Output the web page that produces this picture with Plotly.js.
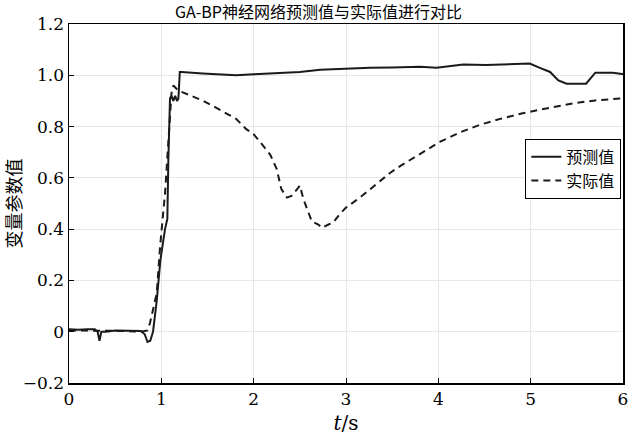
<!DOCTYPE html>
<html>
<head>
<meta charset="utf-8">
<script src="https://cdn.plot.ly/plotly-3.0.1.min.js"></script>
<style>html,body{margin:0;padding:0;background:#fff;}#chart{width:637px;height:436px;}</style>
</head>
<body>
<div id="chart"></div>
<script>
// Predicted (预测值)
var tPred = [0, 0.1, 0.2, 0.28, 0.31, 0.33, 0.35, 0.4, 0.5, 0.6, 0.7, 0.78, 0.82, 0.85, 0.88, 0.91, 0.95, 0.99, 1.04, 1.065, 1.076, 1.094, 1.11, 1.13, 1.15, 1.17, 1.185, 1.2, 1.22, 1.3, 1.45, 1.6, 1.81, 2.0, 2.2, 2.36, 2.5, 2.72, 3.0, 3.26, 3.5, 3.8, 3.98, 4.1, 4.27, 4.52, 4.7, 4.9, 4.99, 5.1, 5.21, 5.3, 5.39, 5.5, 5.6, 5.7, 5.8, 5.89, 5.99, 6.0];
var yPred = [0.01, 0.008, 0.01, 0.01, 0.0, -0.035, 0.0, 0.0, 0.005, 0.005, 0.005, 0.003, -0.01, -0.04, -0.035, 0.0, 0.12, 0.28, 0.40, 0.44, 0.67, 0.91, 0.92, 0.90, 0.92, 0.90, 0.91, 1.013, 1.013, 1.01, 1.007, 1.004, 1.0, 1.004, 1.007, 1.01, 1.013, 1.022, 1.026, 1.029, 1.03, 1.033, 1.029, 1.035, 1.042, 1.04, 1.043, 1.044, 1.046, 1.029, 1.013, 0.98, 0.967, 0.967, 0.967, 1.01, 1.01, 1.01, 1.005, 1.005];

// Actual (实际值)
var tAct = [0, 0.2, 0.4, 0.6, 0.78, 0.85, 0.877, 0.95, 0.986, 1.04, 1.076, 1.11, 1.13, 1.185, 1.35, 1.455, 1.56, 1.71, 1.81, 1.92, 2.0, 2.07, 2.18, 2.25, 2.30, 2.36, 2.41, 2.48, 2.50, 2.54, 2.59, 2.63, 2.70, 2.74, 2.81, 2.86, 2.93, 3.0, 3.15, 3.33, 3.48, 3.59, 3.80, 4.02, 4.24, 4.45, 4.67, 4.89, 5.1, 5.3, 5.5, 5.7, 5.9, 6.0];
var yAct = [0.005, 0.005, 0.003, 0.003, 0.0, 0.005, 0.034, 0.15, 0.33, 0.54, 0.74, 0.93, 0.96, 0.94, 0.916, 0.90, 0.88, 0.85, 0.83, 0.79, 0.77, 0.74, 0.69, 0.634, 0.556, 0.523, 0.53, 0.56, 0.57, 0.516, 0.47, 0.43, 0.418, 0.405, 0.418, 0.425, 0.458, 0.484, 0.523, 0.575, 0.62, 0.647, 0.693, 0.741, 0.778, 0.807, 0.83, 0.85, 0.866, 0.88, 0.893, 0.902, 0.908, 0.91];

var xTicks = [0, 1, 2, 3, 4, 5, 6];
var yTicks = [-0.2, 0, 0.2, 0.4, 0.6, 0.8, 1.0, 1.2];
var yTickText = ['−0.2', '0', '0.2', '0.4', '0.6', '0.8', '1.0', '1.2'];

var CJK = 'Noto Sans CJK SC';
var NUM = 'DejaVu Serif, Noto Sans CJK SC';

var traces = [
  {x: tPred, y: yPred, mode: 'lines', name: '预测值', line: {color: '#1a1a1a', width: 2}},
  {x: tAct, y: yAct, mode: 'lines', name: '实际值', line: {color: '#1a1a1a', width: 2, dash: '7px,5px'}}
];

var layout = {
  width: 637, height: 436,
  margin: {l: 69, r: 14, t: 24, b: 53},
  paper_bgcolor: '#fff', plot_bgcolor: '#fff',
  font: {family: NUM, size: 17, color: '#000'},
  title: {text: 'GA-BP神经网络预测值与实际值进行对比', font: {family: CJK, size: 16, color: '#000'}, x: 0.5, xanchor: 'center', y: 0.972, yanchor: 'middle'},
  xaxis: {range: [0, 6], tickvals: xTicks, ticktext: xTicks.map(String),
    showline: true, linecolor: '#000', linewidth: 1.5, mirror: true,
    showgrid: true, gridcolor: '#e6e6e6', gridwidth: 1,
    ticks: 'inside', ticklen: 5, tickcolor: '#000', tickwidth: 1, zeroline: false,
    tickfont: {family: NUM, size: 17, color: '#000'},
    title: {text: '<i>t</i>/s', font: {family: NUM, size: 20, color: '#000'}, standoff: 8}},
  yaxis: {range: [-0.2, 1.2], tickvals: yTicks, ticktext: yTickText,
    showline: true, linecolor: '#000', linewidth: 1.5, mirror: true,
    showgrid: true, gridcolor: '#e6e6e6', gridwidth: 1,
    ticks: 'inside', ticklen: 5, tickcolor: '#000', tickwidth: 1, zeroline: false,
    tickfont: {family: NUM, size: 17, color: '#000'},
    title: {text: '变量参数值', font: {family: CJK, size: 18, color: '#000'}, standoff: 0}},
  showlegend: true,
  legend: {x: 0.997, xanchor: 'right', y: 0.68, yanchor: 'top', bgcolor: '#fff', bordercolor: '#000', borderwidth: 1,
    font: {family: CJK, size: 16, color: '#000'}, tracegroupgap: 0, itemwidth: 30}
};

Plotly.newPlot('chart', traces, layout, {displayModeBar: false, staticPlot: true});
</script>
</body>
</html>
